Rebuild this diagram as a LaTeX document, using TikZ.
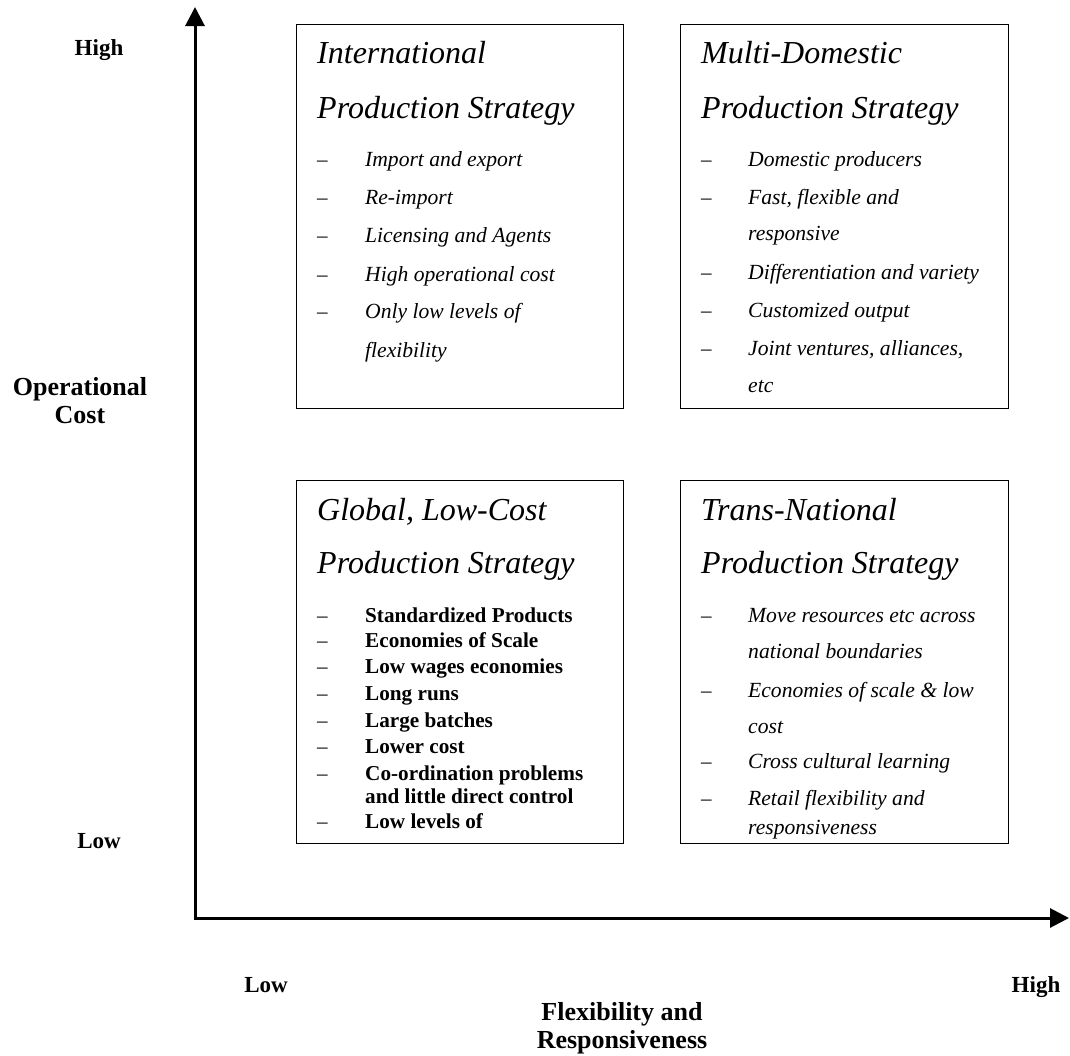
\documentclass[tikz,border=0pt]{standalone}
\usepackage{fontspec}
\setmainfont{Liberation Serif}
\usetikzlibrary{arrows.meta}
\tikzset{
  qbox/.style={draw=black, line width=1.3pt, anchor=north west, inner sep=0pt},
  axisline/.style={line width=3pt, line join=miter},
  ttl/.style={anchor=base west, inner sep=0pt, font=\fontsize{32}{32}\selectfont\itshape},
  itm/.style={anchor=base west, inner sep=0pt, font=\fontsize{21.6}{21.6}\selectfont\itshape},
  bitm/.style={anchor=base west, inner sep=0pt, font=\fontsize{21.2}{21.2}\selectfont\bfseries},
  dsh/.style={anchor=base west, inner sep=0pt, font=\fontsize{21}{21}\selectfont},
  lvl/.style={anchor=base, inner sep=0pt, font=\fontsize{23}{23}\selectfont\bfseries},
  axlbl/.style={anchor=base, inner sep=0pt, align=center, font=\fontsize{26}{28}\selectfont\bfseries},
}
\begin{document}
\begin{tikzpicture}[x=1pt,y=-1pt]
\useasboundingbox (0,0) rectangle (1070,1055);
% boxes
\node[qbox, minimum width=327pt, minimum height=384pt] (tl) at (296,24) {};
\node[qbox, minimum width=328pt, minimum height=384pt] (tr) at (680,24) {};
\node[qbox, minimum width=327pt, minimum height=363pt] (bl) at (296,480) {};
\node[qbox, minimum width=328pt, minimum height=363pt] (br) at (680,480) {};
% axes
\coordinate (origin) at (195,918);
\coordinate (ytop) at (195,7);
\coordinate (xend) at (1069,918);
\draw[axisline, {Triangle[length=19pt,width=19pt]}-{Triangle[length=19pt,width=19pt]}] (ytop) -- (origin) -- (xend);
% axis labels
\node[lvl] (yhigh) at (99,55) {High};
\node[lvl] (ylow) at (99,848) {Low};
\node[axlbl] (ylbl) at (80,423) {Operational\\Cost};
\node[lvl] (xlow) at (266,992) {Low};
\node[lvl] (xhigh) at (1036,992) {High};
\node[axlbl] (xlbl) at (622,1048) {Flexibility and\\Responsiveness};
% TL
\node[ttl] (tlt1) at (317,63) {International};
\node[ttl] (tlt2) at (317,118) {Production Strategy};
\foreach \yy/\lbl [count=\i] in {166/Import and export, 204/Re-import, 242/Licensing and Agents, 281/High operational cost, 318/Only low levels of, 357/flexibility}
  \node[itm] (tli\i) at (365,\yy) {\lbl};
\foreach \yy [count=\i] in {166,204,242,281,318}
  \node[dsh] (tld\i) at (317,\yy) {–};
% TR
\node[ttl] (trt1) at (701,63) {Multi-Domestic};
\node[ttl] (trt2) at (701,118) {Production Strategy};
\foreach \yy/\lbl [count=\i] in {166/Domestic producers, 204/{Fast, flexible and}, 240/responsive, 279/Differentiation and variety, 317/Customized output, 355/{Joint ventures, alliances,}, 392/etc}
  \node[itm] (tri\i) at (748,\yy) {\lbl};
\foreach \yy [count=\i] in {166,204,279,317,355}
  \node[dsh] (trd\i) at (701,\yy) {–};
% BL
\node[ttl] (blt1) at (317,520) {Global, Low-Cost};
\node[ttl] (blt2) at (317,573) {Production Strategy};
\foreach \yy/\lbl [count=\i] in {622/Standardized Products, 647/Economies of Scale, 673/Low wages economies, 700/Long runs, 727/Large batches, 753/Lower cost, 780/Co-ordination problems, 803/and little direct control, 828/Low levels of}
  \node[bitm] (bli\i) at (365,\yy) {\lbl};
\foreach \yy [count=\i] in {622,647,673,700,727,753,780,828}
  \node[dsh] (bld\i) at (317,\yy) {–};
% BR
\node[ttl] (brt1) at (701,520) {Trans-National};
\node[ttl] (brt2) at (701,573) {Production Strategy};
\foreach \yy/\lbl [count=\i] in {622/Move resources etc across, 658/national boundaries, 697/Economies of scale \& low, 733/cost, 768/Cross cultural learning, 805/Retail flexibility and, 834/responsiveness}
  \node[itm] (bri\i) at (748,\yy) {\lbl};
\foreach \yy [count=\i] in {622,697,768,805}
  \node[dsh] (brd\i) at (701,\yy) {–};
\end{tikzpicture}
\end{document}
